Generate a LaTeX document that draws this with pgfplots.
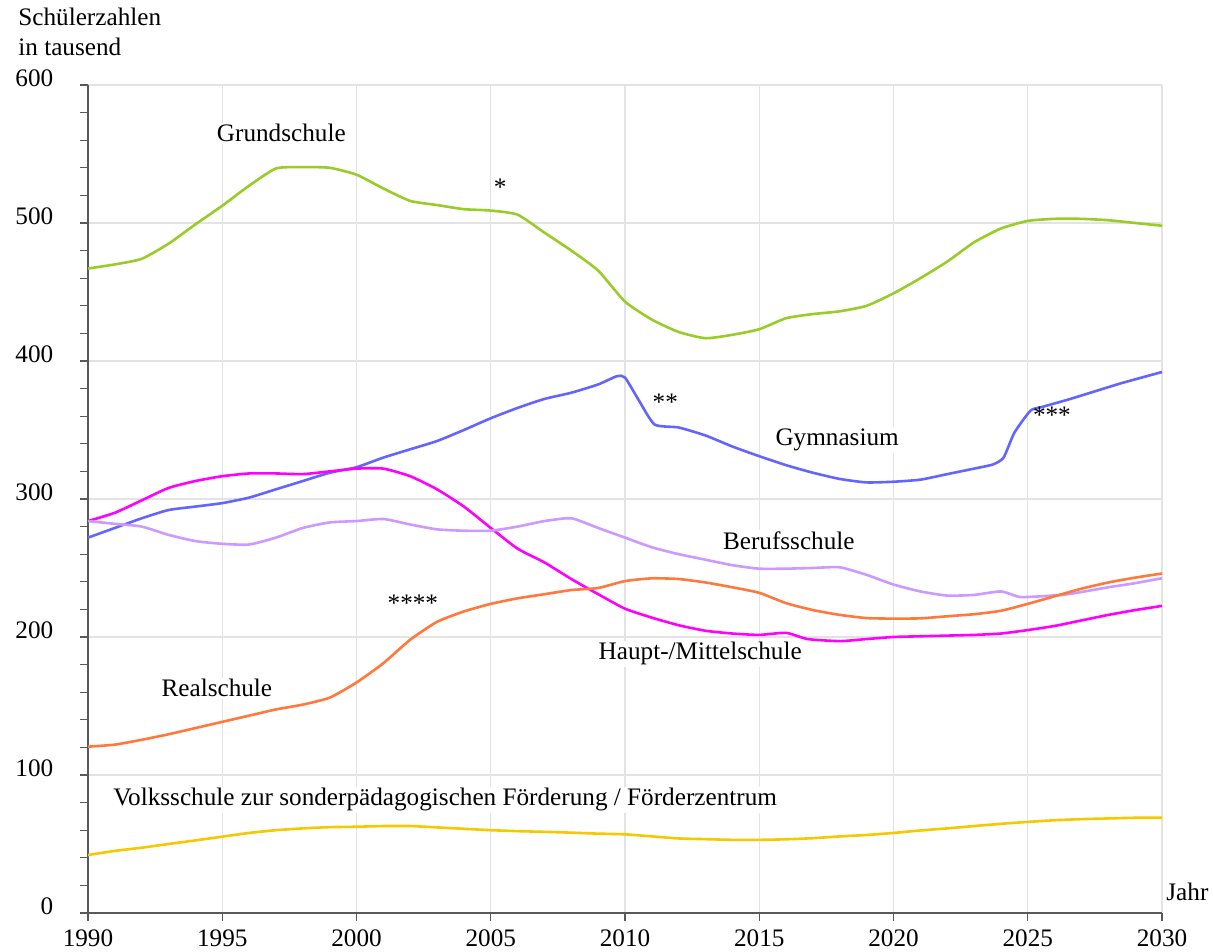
\documentclass[border=0pt]{standalone}
\usepackage{fontspec}
\setmainfont{Liberation Serif}
\usepackage{pgfplots}
\pgfplotsset{compat=1.18}
\definecolor{cgrund}{RGB}{153,204,40}
\definecolor{cgym}{RGB}{100,100,255}
\definecolor{chaupt}{RGB}{255,0,255}
\definecolor{cberuf}{RGB}{204,153,255}
\definecolor{creal}{RGB}{255,120,60}
\definecolor{cvolk}{RGB}{245,200,0}
\begin{document}
\fontsize{12.6}{14}\selectfont
\begin{tikzpicture}
\begin{axis}[
 scale only axis, width=537pt, height=414pt,
 xmin=1990, xmax=2030, ymin=0, ymax=600,
 axis x line*=bottom, axis y line*=left,
 axis line style={draw=gray!70!black, line width=0.9pt},
 xtick={1990,1995,...,2030}, ytick={0,100,...,600},
 minor y tick num=4,
 tick align=outside, major tick length=4pt, minor tick length=4pt,
 every tick/.style={gray!70!black, line width=0.6pt},
 grid=major, major grid style={gray!22, line width=0.7pt},
 /pgf/number format/assume math mode=true,
 x tick label style={/pgf/number format/1000 sep={}},
 yticklabel style={anchor=base east, xshift=-9pt, yshift=-1pt},
 tick label style={font=\fontsize{12.6}{14}\selectfont},
 every axis plot/.append style={line width=1.3pt, line join=round, smooth, tension=0.35},
 clip=false,
]
\addplot[cgrund] coordinates {
(1990,467)(1991,470)(1992,474)(1993,485)(1994,499)(1995,512.5)(1996,527)(1997,539.5)(1998,540.5)(1999,540)
(2000,535)(2001,525)(2002,516)(2003,513)(2004,510)(2005,509)(2006,506)(2007,493)(2008,480)(2009,465.5)
(2010,443)(2011,430)(2012,421)(2013,416.5)(2014,419)(2015,423)(2016,431)(2017,434)(2018,436)(2019,440)
(2020,449)(2021,460)(2022,472)(2023,486)(2024,496)(2025,501.5)(2026,503)(2027,503)(2028,502)(2029,500)(2030,498)};
\addplot[cgym] coordinates {
(1990,272)(1991,279)(1992,286)(1993,292)(1994,294.5)(1995,297)(1996,301)(1997,307)(1998,313)(1999,319)
(2000,323)(2001,330)(2002,336)(2003,342)(2004,350)(2005,358.5)(2006,366)(2007,372.5)(2008,377)(2009,383)
(2009.7,389)(2010,388)(2010.5,372)(2011.1,354)(2012,351.8)(2013,346)(2014,338)(2015,331)(2016,324.5)(2017,319)
(2018,314.5)(2019,312)(2020,312.5)(2021,314)(2022,318)(2023,322)(2023.7,325)(2024.1,330)(2024.5,348)(2025.1,364)
(2025.5,366.5)(2026.5,372)(2027.5,378)(2028.5,384)(2030,392)};
\addplot[chaupt] coordinates {
(1990,284)(1991,290)(1992,299)(1993,308)(1994,313)(1995,316.5)(1996,318.5)(1997,318.5)(1998,318)(1999,320)
(2000,322)(2001,322)(2002,316.5)(2003,307)(2004,294.5)(2005,279)(2006,264)(2007,254)(2008,242)(2009,231)
(2010,220.5)(2011,214)(2012,208.5)(2013,204.5)(2014,202.5)(2015,201.5)(2016,203)(2016.8,198.5)(2018,197)(2019,198.5)
(2020,200)(2021,200.5)(2022,201)(2023,201.5)(2024,202.5)(2025,205)(2026,208)(2027,212)(2028,216)(2029,219.5)(2030,222.5)};
\addplot[cberuf] coordinates {
(1990,284)(1991,282)(1992,280)(1993,274)(1994,269.5)(1995,267.5)(1996,267)(1997,272)(1998,279)(1999,283)
(2000,284)(2001,285.5)(2002,281.5)(2003,278)(2004,277)(2005,277)(2006,280)(2007,284)(2008,286)(2009,279)
(2010,272)(2011,265)(2012,260)(2013,256)(2014,252)(2015,249.5)(2016,249.5)(2017,250)(2018,250.5)(2019,245)
(2020,238)(2021,233)(2022,230)(2023,230.5)(2024,233)(2024.7,229)(2025.5,229.5)(2026.5,231)(2028,236)(2029,239)(2030,242.6)};
\addplot[creal] coordinates {
(1990,120.5)(1991,122)(1992,125.5)(1993,129.5)(1994,134)(1995,138.5)(1996,143)(1997,147.5)(1998,151)(1999,156)
(2000,167)(2001,181)(2002,198)(2003,211)(2004,218.5)(2005,224)(2006,228)(2007,231)(2008,234)(2009,235.5)
(2010,240.5)(2011,242.5)(2012,242)(2013,239.5)(2014,236)(2015,232)(2016,224.5)(2017,219.5)(2018,216)(2019,213.7)
(2020,213.3)(2021,213.5)(2022,215)(2023,216.5)(2024,219)(2025,224)(2026,229.5)(2027,235)(2028,239.5)(2029,243)(2030,246)};
\addplot[cvolk] coordinates {
(1990,42)(1991,45)(1992,47.3)(1993,50)(1994,52.6)(1995,55.3)(1996,58)(1997,60)(1998,61.3)(1999,62.2)
(2000,62.5)(2001,63)(2002,63)(2003,62)(2004,61)(2005,60)(2006,59.3)(2007,58.8)(2008,58.2)(2009,57.5)
(2010,57)(2011,55.5)(2012,54)(2013,53.5)(2014,53)(2015,53)(2016,53.4)(2017,54.2)(2018,55.5)(2019,56.5)
(2020,58)(2021,59.8)(2022,61.3)(2023,63)(2024,64.6)(2025,66)(2026,67.2)(2027,68)(2028,68.5)(2029,69)(2030,69)};
\begin{scope}[every node/.style={fill=white, inner sep=0.8pt, font=\fontsize{12.6}{14}\selectfont}]
\node at (axis cs:1997.2,565) {Grundschule};
\node[fill=none] at (axis cs:2005.35,526) {*};
\node[fill=none] at (axis cs:2011.5,370) {**};
\node at (axis cs:2017.9,342.8) {Gymnasium};
\node[fill=none] at (axis cs:2025.9,361) {***};
\node at (axis cs:2016.1,269.6) {Berufsschule};
\node[fill=none] at (axis cs:2002.1,224.6) {****};
\node at (axis cs:2012.8,188) {Haupt-/Mittelschule};
\node at (axis cs:1994.8,163) {Realschule};
\node at (axis cs:2003.3,82) {Volksschule zur sonderpädagogischen Förderung / Förderzentrum};
\end{scope}
\end{axis}
\node[anchor=north west, align=left, inner sep=0pt, font=\fontsize{12.6}{15}\selectfont] at ([shift={(-35pt,38.5pt)}]current axis.north west) {Schülerzahlen\\in tausend};
\node[anchor=base west, inner sep=0pt] at ([shift={(2pt,6pt)}]current axis.south east) {Jahr};
\pgfresetboundingbox
\path ([shift={(-44pt,-19.5pt)}]current axis.south west) rectangle ([shift={(25.5pt,42.5pt)}]current axis.north east);
\end{tikzpicture}
\end{document}
